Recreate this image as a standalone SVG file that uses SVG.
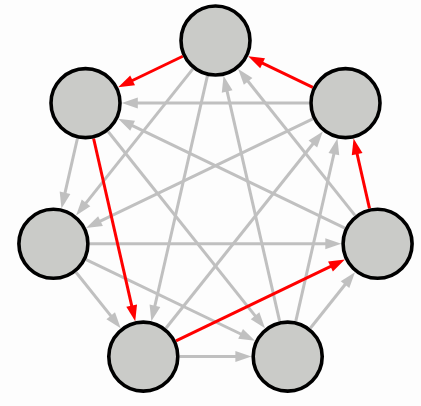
<svg xmlns="http://www.w3.org/2000/svg" width="421" height="406" viewBox="0 0 421 406">
<style>
.e{stroke-width:3;fill:none;stroke-linecap:butt}
.g{stroke:#c0c0c0;marker-end:url(#ag)}
.r{stroke:#ff0000;marker-end:url(#ar)}
.n{fill:#cacbc8;stroke:#000;stroke-width:3.6}
</style>
<defs>
<marker id="ag" markerUnits="userSpaceOnUse" markerWidth="20" markerHeight="14" refX="6" refY="7" orient="auto" overflow="visible"><path d="M0,1.5 L16,7 L0,12.5 z" fill="#c0c0c0"/></marker>
<marker id="ar" markerUnits="userSpaceOnUse" markerWidth="20" markerHeight="14" refX="6" refY="7" orient="auto" overflow="visible"><path d="M0,1.5 L16,7 L0,12.5 z" fill="#ff0000"/></marker>
</defs>
<rect width="421" height="406" fill="#fdfdfd"/>
<g id="connectors">
<line class="e g" x1="309.2" y1="103.1" x2="131.8" y2="103.1"/>
<line class="e g" x1="77.4" y1="138.5" x2="63.7" y2="198.65"/>
<line class="e g" x1="89.7" y1="243.8" x2="331.3" y2="243.8"/>
<line class="e g" x1="76.0" y1="272.2" x2="114.45" y2="320.4"/>
<line class="e g" x1="86.1" y1="259.55" x2="246.0" y2="336.5"/>
<line class="e g" x1="179.6" y1="356.6" x2="241.4" y2="356.6"/>
<line class="e g" x1="310.3" y1="328.2" x2="348.75" y2="280.0"/>
<line class="e g" x1="192.9" y1="68.9" x2="82.3" y2="207.6"/>
<line class="e g" x1="312.8" y1="118.85" x2="95.1" y2="223.7"/>
<line class="e g" x1="344.9" y1="228.05" x2="127.2" y2="123.2"/>
<line class="e g" x1="108.1" y1="131.5" x2="258.8" y2="320.4"/>
<line class="e g" x1="207.4" y1="75.9" x2="153.6" y2="311.5"/>
<line class="e g" x1="165.9" y1="328.2" x2="316.6" y2="139.3"/>
<line class="e g" x1="279.6" y1="321.2" x2="225.8" y2="85.6"/>
<line class="e g" x1="355.0" y1="215.4" x2="244.4" y2="76.7"/>
<line class="e g" x1="295.8" y1="321.2" x2="335.2" y2="148.25"/>
<line class="e r" x1="182.8" y1="56.25" x2="127.2" y2="83.0"/>
<line class="e r" x1="312.8" y1="87.35" x2="257.2" y2="60.6"/>
<line class="e r" x1="369.5" y1="208.4" x2="355.8" y2="148.25"/>
<line class="e r" x1="176.0" y1="340.85" x2="335.9" y2="263.9"/>
<line class="e r" x1="93.6" y1="138.5" x2="133.0" y2="311.45"/>
</g>
<g id="node-t"><circle class="n" cx="215.5" cy="40.5" r="34.5"/></g>
<g id="node-ul"><circle class="n" cx="85.5" cy="103.1" r="34.5"/></g>
<g id="node-ur"><circle class="n" cx="345.5" cy="103.1" r="34.5"/></g>
<g id="node-l"><circle class="n" cx="53.4" cy="243.8" r="34.5"/></g>
<g id="node-r"><circle class="n" cx="377.6" cy="243.8" r="34.5"/></g>
<g id="node-bl"><circle class="n" cx="143.3" cy="356.6" r="34.5"/></g>
<g id="node-br"><circle class="n" cx="287.7" cy="356.6" r="34.5"/></g>
</svg>
